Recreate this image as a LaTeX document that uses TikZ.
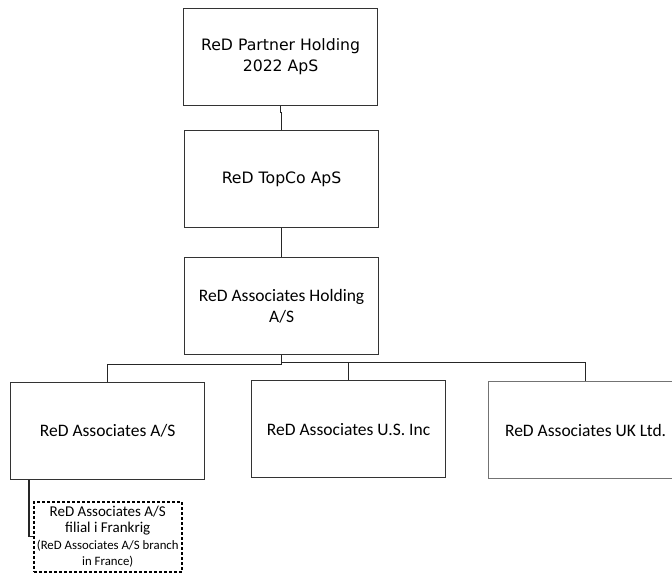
\documentclass[tikz,border=0pt]{standalone}
\usepackage{fontspec}
\setmainfont{Carlito}
\newfontfamily\tahoma{DejaVu Sans}
\usetikzlibrary{positioning}

\begin{document}
\begin{tikzpicture}[x=1pt, y=-1pt, line width=1.2pt,
    company/.style={draw=black!80, rectangle, anchor=north west, align=center,
        minimum width=194pt, minimum height=97pt, inner sep=2pt,
        font=\fontsize{17.5}{21}\selectfont},
    topco/.style={company, font=\tahoma\fontsize{15.7}{21}\selectfont},
    branch/.style={draw=black, densely dashed, line width=1.5pt, rectangle, anchor=north west,
        align=center, minimum width=148pt, minimum height=70pt, inner sep=1pt,
        font=\fontsize{15}{16.5}\selectfont},
    link/.style={draw=black!85, line width=1.2pt}]
    \useasboundingbox (0,0) rectangle (672,574);

    % Nodes {partner, topco, assoc, as, us, uk, fr}
    \node [topco]   (partner) at (183,8)   {ReD Partner Holding\\2022 ApS};
    \node [topco]   (topco)   at (184,130) {ReD TopCo ApS};
    \node [company] (assoc)   at (184,257) {ReD Associates Holding\\A/S};
    \node [company] (as)      at (10,382)  {ReD Associates A/S};
    \node [company] (us)      at (251,380) {ReD Associates U.S. Inc};
    \node [company, draw=black!55] (uk) at (488,381) {ReD Associates UK Ltd.};
    \node [branch]  (fr)      at (33,501)
        {ReD Associates A/S\\filial i Frankrig\\[0pt]
         {\fontsize{12.8}{13}\selectfont (ReD Associates A/S branch}\\[0pt]
         {\fontsize{12.8}{13}\selectfont in France)}};

    % Paths
    \path [link] (partner.south) -- ++(0,6) -| (topco.north);
    \path [link] (topco.south) -- (assoc.north);
    \path [link] (assoc.south) -- ++(0,9) -| (as.north);
    \path [link] (assoc.south) -- ++(0,7) -| (us.north);
    \path [link] (assoc.south) -- ++(0,7) -| (uk.north);
    \path [link] ([xshift=19pt]as.south west) |- (fr.west);
\end{tikzpicture}
\end{document}
